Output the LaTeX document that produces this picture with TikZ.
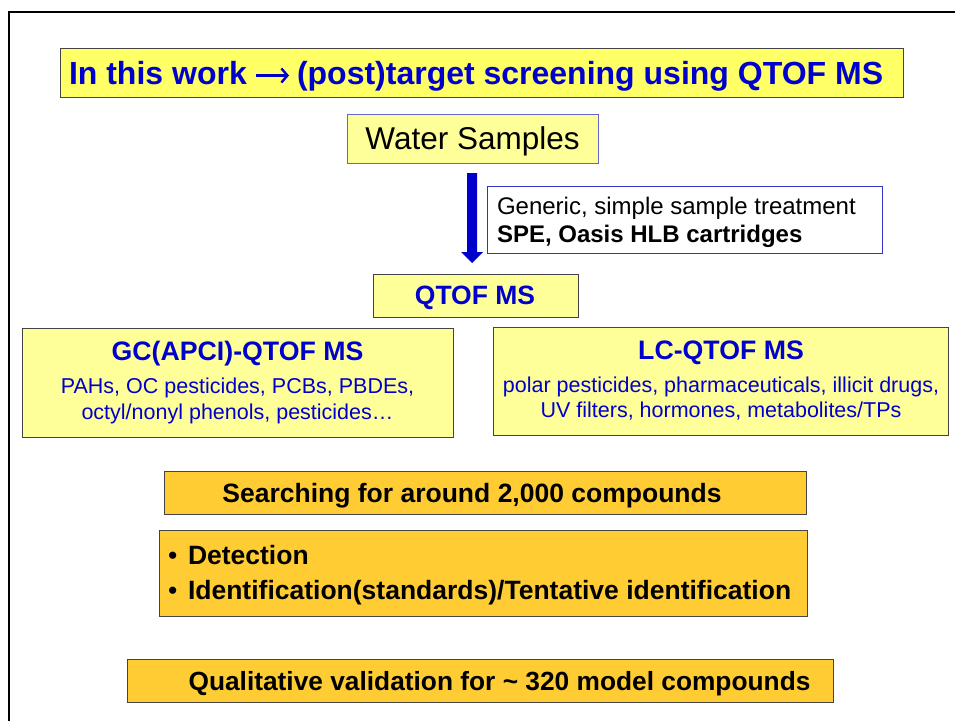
\documentclass[tikz,border=0pt]{standalone}
\usepackage{fontspec}
\usetikzlibrary{arrows.meta}
\setmainfont{Liberation Sans}
\definecolor{titleyellow}{HTML}{FFFF66}
\definecolor{lightyellow}{HTML}{FFFF99}
\definecolor{boxorange}{HTML}{FFCC33}
\definecolor{textblue}{HTML}{0000CC}
\definecolor{frameblue}{HTML}{6666CC}
\definecolor{boxblue}{HTML}{3333CC}
\definecolor{boxgray}{HTML}{444444}
\tikzset{
  panel/.style={draw=boxgray, line width=1pt, anchor=north west, inner sep=0pt, outer sep=0pt},
  ybox/.style={panel, fill=lightyellow},
  obox/.style={panel, fill=boxorange},
  txt/.style={inner sep=0pt, outer sep=0pt},
}
\newcommand{\fs}[1]{\fontsize{#1}{#1}\selectfont}
\newcommand{\mybul}{\makebox[20pt][l]{\mdseries\textbullet}}
\begin{document}
\begin{tikzpicture}[x=1pt,y=-1pt]
\useasboundingbox (0,0) rectangle (955,720);
% outer frame
\draw[line width=2pt] (9,722) -- (9,12) -- (957,12);
% title
\node[panel, fill=titleyellow, draw=boxgray, minimum width=843pt, minimum height=49pt] (title) at (60,48) {};
\node[txt, anchor=base west, text=textblue, font=\fs{32}\bfseries] (titleL) at (69,84) {In this work};
\node[txt, anchor=base west, text=textblue, font=\fs{32}\bfseries] (titleR) at (297,84) {(post)target screening using QTOF MS};
\coordinate (tarrA) at (256,75.5);
\coordinate (tarrB) at (289,75.5);
\draw[textblue, line width=2.4pt, -{Straight Barb[length=6pt,width=14pt,line width=2.4pt]}] (tarrA) -- (tarrB);
% water samples
\node[ybox, draw=frameblue, minimum width=251pt, minimum height=49pt] (water) at (347,114) {};
\node[txt, font=\fs{31.5}] (watertxt) at (472.5,141.5) {Water Samples};
% arrow
\coordinate (atop) at (472,173);
\coordinate (atip) at (472,263);
\fill[textblue] (467,173) -- (477,173) -- (477,252) -- (483,252) -- (atip) -- (461,252) -- (467,252) -- cycle;
% treatment
\node[panel, draw=boxblue, fill=white, minimum width=395pt, minimum height=67pt] (treat) at (487,186) {};
\node[txt, anchor=west, font=\fs{24}] (treat1) at (497,208.5) {Generic, simple sample treatment};
\node[txt, anchor=west, font=\fs{24}\bfseries] (treat2) at (497,236.5) {SPE, Oasis HLB cartridges};
% QTOF
\node[ybox, minimum width=205pt, minimum height=43pt] (qtof) at (373,274) {};
\node[txt, text=textblue, font=\fs{26.5}\bfseries] (qtoftxt) at (475,298) {QTOF MS};
% GC box
\node[ybox, minimum width=431pt, minimum height=109pt] (gc) at (22,328) {};
\node[txt, text=textblue, font=\fs{26.7}\bfseries] (gct) at (237.5,354) {GC(APCI)-QTOF MS};
\node[txt, text=textblue, font=\fs{21.5}] (gc1) at (237.5,387.5) {PAHs, OC pesticides, PCBs, PBDEs,};
\node[txt, text=textblue, font=\fs{21.5}] (gc2) at (237.5,413.5) {octyl/nonyl phenols, pesticides\ldots};
% LC box
\node[ybox, minimum width=455pt, minimum height=108pt] (lc) at (493,327) {};
\node[txt, text=textblue, font=\fs{26.7}\bfseries] (lct) at (721,353) {LC-QTOF MS};
\node[txt, text=textblue, font=\fs{21.5}] (lc1) at (721,386.5) {polar pesticides, pharmaceuticals, illicit drugs,};
\node[txt, text=textblue, font=\fs{21.5}] (lc2) at (721,411.5) {UV filters, hormones, metabolites/TPs};
% searching
\node[obox, minimum width=642pt, minimum height=43pt] (search) at (164,471) {};
\node[txt, font=\fs{26.5}\bfseries] (searchtxt) at (472,496) {Searching for around 2,000 compounds};
% detection
\node[obox, minimum width=648pt, minimum height=86pt] (detect) at (159,530) {};
\node[txt, anchor=west, font=\fs{26.5}\bfseries] (det1) at (168,555) {\mybul Detection};
\node[txt, anchor=west, font=\fs{26.5}\bfseries] (det2) at (168,593) {\mybul Identification(standards)/Tentative identification};
% qualitative
\node[obox, minimum width=706pt, minimum height=43pt] (qual) at (127,659) {};
\node[txt, font=\fs{26.3}\bfseries] (qualtxt) at (499.5,684) {Qualitative validation for \textasciitilde\ 320 model compounds};
\end{tikzpicture}
\end{document}
